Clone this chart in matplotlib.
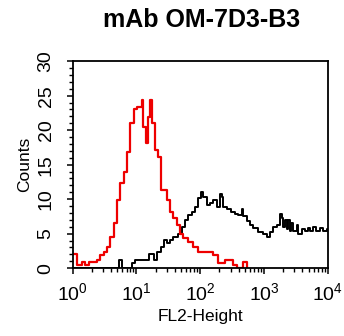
import numpy as np
import matplotlib
matplotlib.use('Agg')
import matplotlib.pyplot as plt
from matplotlib.ticker import LogLocator, MultipleLocator, FixedLocator

plt.rcParams['font.family'] = ['Liberation Sans', 'DejaVu Sans']
plt.rcParams['mathtext.fontset'] = 'custom'
plt.rcParams['mathtext.rm'] = 'Liberation Sans'

# histogram steps: left edge in decades (log10 of FL2), counts
red_dec = [0.0, 0.067, 0.146, 0.198, 0.25, 0.38, 0.433, 0.485, 0.538, 0.59,
           0.642, 0.695, 0.747, 0.80, 0.85, 0.903, 0.956, 1.008, 1.086, 1.11,
           1.15, 1.18, 1.217, 1.243, 1.285, 1.337, 1.39, 1.473, 1.525, 1.577,
           1.63, 1.68, 1.734, 1.81, 1.89, 1.97, 2.2, 2.28, 2.387, 2.52,
           2.57, 2.674, 2.74]
red_cnt = [2.1, 0.4, 0.9, 0.4, 0.9, 1.2, 1.9, 2.3, 3.1, 4.5,
           6.5, 9.9, 12.3, 14.0, 16.9, 21.0, 23.1, 23.4, 24.3, 20.5,
           18.1, 21.9, 24.3, 21.0, 17.1, 16.1, 11.3, 9.9, 8.2, 7.2,
           6.2, 5.0, 4.3, 3.8, 3.1, 2.4, 1.9, 0.7, 1.2, 0.4,
           0.0, 0.9, 0.0]

blk_dec = [0.0, 0.72, 0.77, 0.93, 0.98, 1.19, 1.28, 1.33, 1.38, 1.43,
           1.48, 1.525, 1.577, 1.655, 1.708, 1.76, 1.81, 1.865, 1.917, 1.97,
           2.02, 2.047, 2.1, 2.15, 2.2, 2.257, 2.31, 2.335, 2.36, 2.414,
           2.49, 2.544, 2.595, 2.65, 2.674, 2.727, 2.78, 2.83, 2.91, 2.987,
           3.04, 3.09, 3.144, 3.197, 3.25, 3.275, 3.3, 3.328, 3.354, 3.38,
           3.406, 3.43, 3.457, 3.51, 3.536, 3.59, 3.64, 3.69, 3.72, 3.77,
           3.82, 3.876, 3.93, 3.98, 4.0]
blk_cnt = [0.0, 1.2, 0.0, 0.7, 1.2, 2.0, 1.2, 2.3, 3.1, 4.1,
           3.6, 4.1, 4.5, 5.0, 6.0, 7.0, 7.7, 8.2, 8.9, 10.1,
           11.1, 10.3, 9.1, 9.4, 9.9, 8.9, 10.8, 10.3, 8.9, 8.6,
           8.2, 7.9, 7.7, 8.6, 7.5, 6.8, 6.2, 5.8, 5.2, 5.0,
           4.5, 5.2, 6.0, 6.2, 7.9, 7.2, 6.0, 7.0, 5.6, 7.0,
           5.4, 6.6, 5.4, 6.2, 5.0, 5.6, 5.4, 5.8, 5.4, 6.0,
           5.4, 5.8, 5.4, 5.6, 5.6]

fig = plt.figure(figsize=(3.44, 3.36), dpi=100)
ax = fig.add_axes([0.211, 0.202, 0.742, 0.616])

ax.step(10 ** np.array(blk_dec), blk_cnt, where='post', color='black', lw=1.4)
ax.step(10 ** np.array(red_dec), red_cnt, where='post', color='#ee0000', lw=1.6)

ax.set_xscale('log')
ax.set_xlim(1, 1e4)
ax.set_ylim(0, 30)

ax.xaxis.set_major_locator(FixedLocator([1, 10, 100, 1000, 10000]))
ax.set_xticklabels(['$10^0$', '$10^1$', '$10^2$', '$10^3$', '$10^4$'])
ax.xaxis.set_minor_locator(LogLocator(base=10, subs=np.arange(2, 10), numticks=20))
ax.yaxis.set_major_locator(MultipleLocator(5))
ax.yaxis.set_minor_locator(MultipleLocator(1))

ax.tick_params(axis='both', which='major', direction='out', length=4, width=1.1,
               labelsize=14)
ax.tick_params(axis='both', which='minor', direction='out', length=3, width=1)
ax.tick_params(axis='y', which='major', pad=9)
ax.tick_params(axis='x', which='major', pad=6)
for lbl in ax.get_yticklabels():
    lbl.set_rotation(90)
    lbl.set_va('center')

for s in ax.spines.values():
    s.set_linewidth(1.3)

ax.set_xlabel('FL2-Height', fontsize=12.5, labelpad=3)
ax.set_ylabel('Counts', fontsize=12.5, labelpad=4)
fig.text(0.585, 0.94, 'mAb OM-7D3-B3', ha='center', va='center',
         fontsize=18, fontweight='bold')

fig.savefig('out.png', dpi=100)
